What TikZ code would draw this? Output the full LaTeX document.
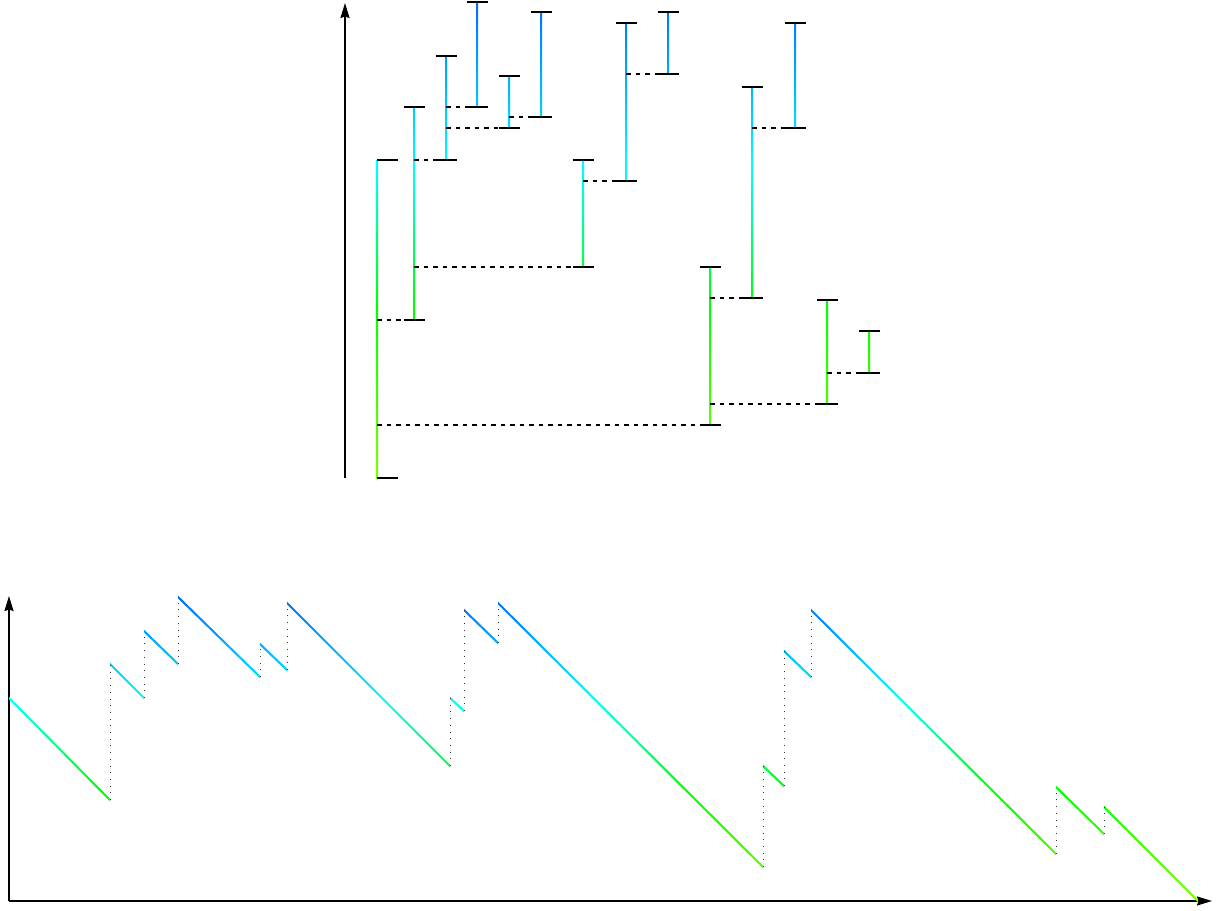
\documentclass[tikz,border=0pt]{standalone}
\usetikzlibrary{arrows.meta}
\definecolor{lowlevel}{rgb}{0.5,1,0}
\definecolor{midlevel}{rgb}{0,1,0}
\definecolor{cyanlevel}{rgb}{0,1,1}
\definecolor{highlevel}{rgb}{0,0.42,1}
% levels 0..320 are stretched onto 25bp..75bp
\pgfdeclareverticalshading{levelmap}{100bp}{color(0bp)=(lowlevel); color(25bp)=(lowlevel);
  color(42.19bp)=(midlevel); color(56.25bp)=(cyanlevel); color(72.5bp)=(highlevel);
  color(75bp)=(highlevel); color(100bp)=(highlevel)}
\begin{document}
\begin{tikzpicture}[
        x=1bp, y=-1bp,
        axis/.style={line width=1.7bp, -{Stealth[length=15bp, width=9bp, inset=1.5bp]}},
        tick/.style={line width=2bp},
        link/.style={line width=2bp, dash pattern=on 4.5bp off 5bp},
        jump/.style={black!80, line width=1.2bp, dash pattern=on 1bp off 5.7bp}
    ]
    \useasboundingbox (0,0) rectangle (1222,911);
    % axes
    \coordinate (treebase) at (345,478);
    \coordinate (treetop) at (345,3);
    \coordinate (origin) at (9,901);
    \coordinate (ytop) at (9,596);
    \coordinate (xend) at (1212,901);
    \draw[axis] (treebase) -- (treetop);
    \draw[axis] (origin) -- (ytop);
    \draw[axis] (origin) -- (xend);
    \draw[line width=2.6bp] (145,901) -- (260,901);
    % birth time / lower level / upper level / end time / end level / tree x / parent x
    \foreach \t/\lo/\hi/\te/\le/\tx/\px in {
        0/0/203/101/101/377/0,
        101/101/237/135/203/414/377,
        135/203/270/169/237/446/414,
        169/237/304/251/224/477/446,
        251/224/257/278/231/509/446,
        278/231/298/441/135/541/509,
        441/135/203/455/190/583/414,
        455/190/291/489/258/626/583,
        489/258/298/754/34/668/626,
        754/34/135/775/115/710/377,
        775/115/250/802/224/752/710,
        802/224/291/1047/47/795/752,
        1047/47/114/1095/67/827/710,
        1095/67/94/1189/0/869/827} {
        \pgfmathsetmacro\ylo{round(478-1.5645*\lo)}
        \pgfmathsetmacro\yhi{round(478-1.5645*\hi)}
        % lower picture: one slope
        \begin{scope}
            \clip (9+\t,901-\hi-1.45) -- (9+\te,901-\le-1.45)
                -- (9+\te,901-\le+1.45) -- (9+\t,901-\hi+1.45) -- cycle;
            \shade[shading=levelmap] (0,901) rectangle (1222,581);
        \end{scope}
        \ifnum\t>0
            \draw[jump] (9.5+\t,901-\lo) -- (9.5+\t,901-\hi);
            \draw[link] (\px,\ylo) -- (\tx,\ylo);
        \fi
        % upper picture: one branch
        \begin{scope}
            \clip (\tx-1,\ylo) rectangle (\tx+1,\yhi);
            \shade[shading=levelmap] (300,478) rectangle (900,478-1.5645*320);
        \end{scope}
        \ifnum\t>0
            \draw[tick] (\tx-10.5,\ylo) -- ++(21,0);
            \draw[tick] (\tx-10.5,\yhi) -- ++(21,0);
        \else
            \draw[tick] (\tx,\ylo) -- ++(21,0);
            \draw[tick] (\tx,\yhi) -- ++(21,0);
        \fi
    }
\end{tikzpicture}
\end{document}
